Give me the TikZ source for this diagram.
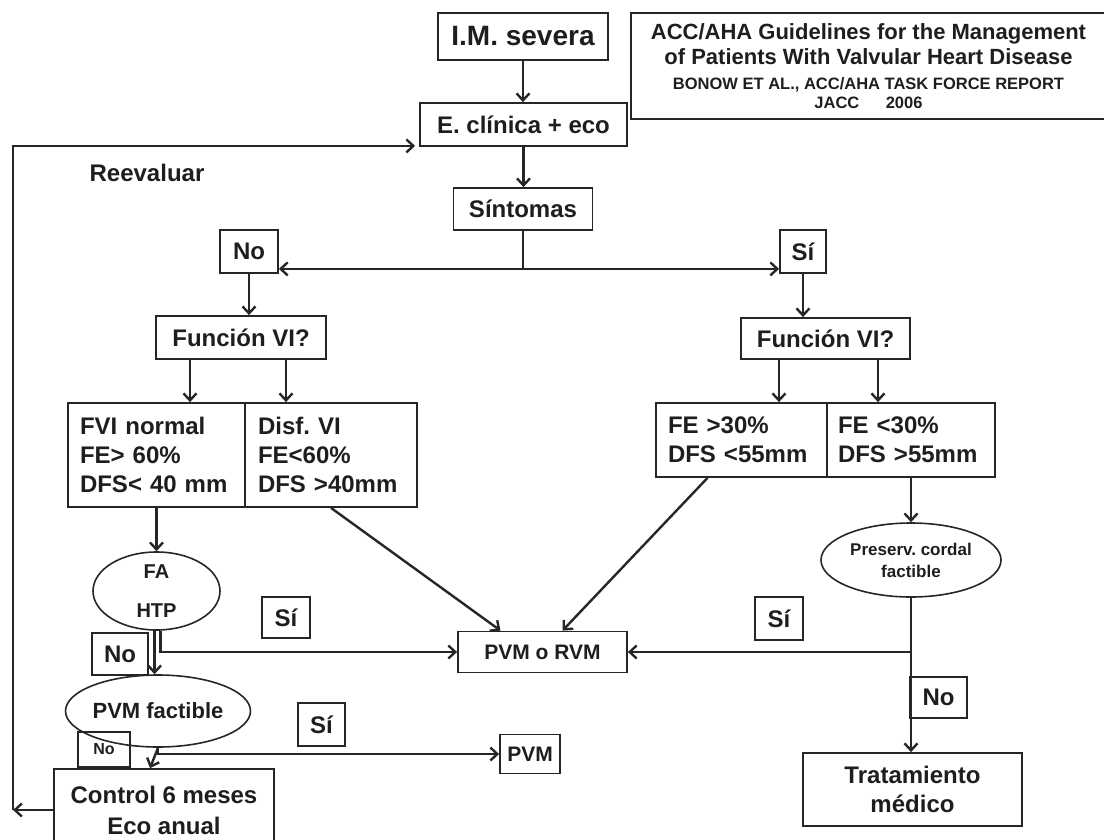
\documentclass[tikz,border=0pt]{standalone}
\usepackage{fontspec}
\setmainfont{Liberation Sans}
\usetikzlibrary{positioning,arrows.meta,calc,shapes.geometric}
\definecolor{flowInk}{HTML}{1E1E1E}
\definecolor{flowLine}{HTML}{262626}
\frenchspacing

\begin{document}
\begin{tikzpicture}[x=1pt, y=-1pt, >={Straight Barb[length=7pt,width=13pt]},
          box/.style={draw=flowLine, line width=1.8pt, inner sep=0pt, text=flowInk, font=\fontsize{24}{29}\selectfont\bfseries, align=center},
          oval/.style={ellipse, draw=flowLine, line width=1.6pt, inner sep=0pt, text=flowInk, align=center},
          flow/.style={->, flowLine, line width=2.4pt},
          link/.style={flowLine, line width=2.4pt}]
        \useasboundingbox (0,0) rectangle (1104,839);
        % top of the chart
        \node[box, minimum width=170pt, minimum height=47pt, font=\fontsize{28}{32}\selectfont\bfseries] (im) at (523,36.5) {I.M. severa};
        \node[box, minimum width=207pt, minimum height=43pt] (eco) at (523.5,124.5) {E. clínica + eco};
        \node[box, minimum width=139pt, minimum height=42pt] (sint) at (523,209) {Síntomas};
        \node[box, line width=1.6pt, minimum width=475pt, minimum height=106pt, font=\fontsize{22}{25}\selectfont\bfseries] (ref) at (868.5,66)
          {ACC/AHA Guidelines for the Management\\ of Patients With Valvular Heart Disease\\ {\fontsize{16.5}{19}\selectfont BONOW ET AL., ACC/AHA TASK FORCE REPORT}\\[-6pt] {\fontsize{16.5}{19}\selectfont JACC\hspace{1.6em}2006}};
        \node[text=flowInk, font=\fontsize{24}{28}\selectfont\bfseries] (reev) at (147,173) {Reevaluar};
        \node[box, minimum width=58pt, minimum height=43pt] (no1) at (249,251.5) {No};
        \node[box, minimum width=46pt, minimum height=43pt] (si1) at (803,251.5) {Sí};
        % left branch
        \node[box, minimum width=170pt, minimum height=43pt] (fun1) at (241,337.5) {Función VI?};
        \node[box, minimum width=177pt, minimum height=104pt, text width=153pt, align=left] (fvi) at (156.5,455) {FVI normal\\FE> 60\%\\DFS< 40 mm};
        \node[box, minimum width=172pt, minimum height=104pt, text width=146pt, align=left] (disf) at (331,455) {Disf. VI\\FE<60\%\\DFS >40mm};
        \node[oval, minimum width=127pt, minimum height=78pt, font=\fontsize{20}{39}\selectfont\bfseries] (fa) at (156.5,591) {FA\\HTP};
        \node[box, minimum width=56pt, minimum height=42pt] (no2) at (120,654) {No};
        \node[box, minimum width=48pt, minimum height=41pt] (si2) at (286,617.5) {Sí};
        \node[oval, minimum width=180pt, minimum height=72pt, font=\fontsize{22}{26}\selectfont\bfseries] (pvmf) at (158,711) {PVM factible};
        \node[box, line width=1.6pt, minimum width=52pt, minimum height=35pt, font=\fontsize{16}{19}\selectfont\bfseries] (no3) at (104,749.5) {No};
        \node[box, minimum width=47pt, minimum height=43pt] (si3) at (321.5,724.5) {Sí};
        \node[box, minimum width=60pt, minimum height=39pt, font=\fontsize{21}{25}\selectfont\bfseries] (pvm) at (530,754) {PVM};
        \node[box, minimum width=220pt, minimum height=82pt, font=\fontsize{24}{31}\selectfont\bfseries] (ctrl) at (164,810) {Control 6 meses\\Eco anual};
        % centre and right branch
        \node[box, minimum width=169pt, minimum height=41pt, font=\fontsize{21}{25}\selectfont\bfseries] (pvmr) at (542.5,652) {PVM o RVM};
        \node[box, minimum width=169pt, minimum height=41pt] (fun2) at (825.5,338.5) {Función VI?};
        \node[box, minimum width=171pt, minimum height=74pt, text width=147pt, align=left] (fe1) at (741.5,440) {FE >30\%\\DFS <55mm};
        \node[box, minimum width=168pt, minimum height=74pt, text width=146pt, align=left] (fe2) at (911,440) {FE <30\%\\DFS >55mm};
        \node[oval, minimum width=180pt, minimum height=74pt, font=\fontsize{17}{22}\selectfont\bfseries] (pres) at (911,560) {Preserv. cordal\\factible};
        \node[box, minimum width=48pt, minimum height=43pt] (si4) at (779,618.5) {Sí};
        \node[box, minimum width=57pt, minimum height=41pt] (no4) at (938.5,697.5) {No};
        \node[box, minimum width=219pt, minimum height=73pt] (trat) at (912.5,789.5) {Tratamiento\\médico};
        % connectors
        \draw[flow] (im.south) -- (im.south |- eco.north);
        \draw[flow] (eco.south) -- (eco.south |- sint.north);
        \draw[link] (sint.south) -- ++(0,38) coordinate (split);
        \draw[flow] (split) -- (split -| no1.east);
        \draw[flow] (split) -- (split -| si1.west);
        \draw[flow] (no1.south) -- (no1.south |- fun1.north);
        \draw[flow] (si1.south) -- (si1.south |- fun2.north);
        \draw[flow] ($(fun1.south)+(-51,0)$) -- ($(fvi.north)+(33.5,0)$);
        \draw[flow] ($(fun1.south)+(45,0)$) -- ($(disf.north)+(-45,0)$);
        \draw[flow] ($(fun2.south)+(-46.5,0)$) -- ($(fe1.north)+(37.5,0)$);
        \draw[flow] ($(fun2.south)+(52.5,0)$) -- ($(fe2.north)+(-33,0)$);
        \draw[flow] (fvi.south) -- (fa.north);
        \draw[flow] ($(fa.south)+(-2,0)$) -- ($(fa.south |- pvmf.north)+(-2,0)$);
        \draw[flow] ($(fa.south)+(4,0)$) |- (pvmr.west);
        \draw[flow] (disf.south) -- ($(pvmr.north)+(-42,0)$);
        \draw[flow] ($(fe1.south)+(-34,0)$) -- ($(pvmr.north)+(20,0)$);
        \draw[flow] (fe2.south) -- (pres.north);
        \draw[flow] (pres.south) -- (pres.south |- trat.north);
        \draw[flow] (pres.south |- pvmr.east) -- (pvmr.east);
        \draw[flow] (pvmf.south) -- ($(ctrl.north)+(-14,0)$);
        \draw[flow] (pvmf.south) |- (pvm.west);
        \draw[flow] (ctrl.west) -- ++(-40,0) coordinate (back);
        \draw[flow] (back) |- ($(eco.south west)+(-4,-1)$);
      \end{tikzpicture}
\end{document}
